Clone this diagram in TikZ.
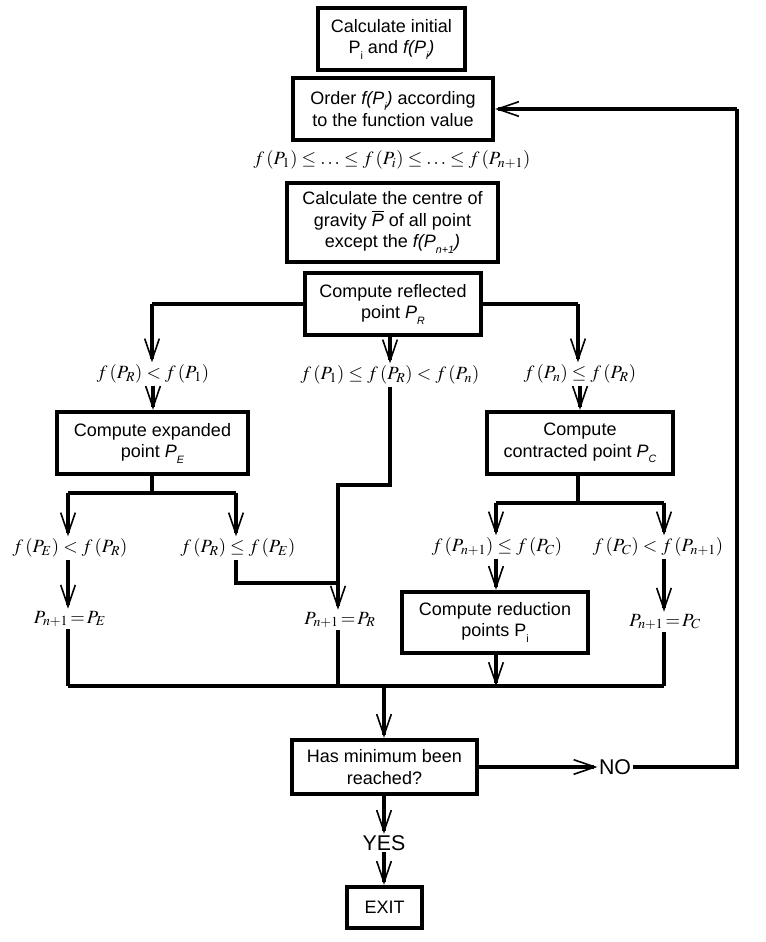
\documentclass[tikz,border=0pt]{standalone}
\usepackage{mathptmx}
\usepackage[no-math]{fontspec}
\setmainfont{Liberation Sans}
\usetikzlibrary{arrows.meta}
\newcommand\sbx[1]{\raisebox{-0.6ex}{\fontsize{8}{8}\selectfont #1}}
\begin{document}
\begin{tikzpicture}[x=0.75pt,y=-0.75pt,
  box/.style={draw,line width=3.2pt,align=center,inner sep=0pt,
    font=\fontsize{13.5}{16}\selectfont},
  lbl/.style={inner sep=1.5pt,font=\fontsize{14}{16}\selectfont},
  big/.style={inner sep=1pt,font=\fontsize{16}{18}\selectfont},
  ln/.style={line width=2.8pt},
  arr/.style={line width=2.8pt,-{Straight Barb[length=16pt,width=11pt,line width=1.2pt]}}]
\useasboundingbox (0,0) rectangle (766,942);
% boxes
\node[box,minimum width=147*0.75pt,minimum height=62*0.75pt] (b1) at (391.5,39) {Calculate initial\\P\sbx{i} and \textit{f(P\sbx{\textit{i}})}};
\node[box,minimum width=200*0.75pt,minimum height=62*0.75pt] (b2) at (393,109) {Order \textit{f(P\sbx{\textit{i}})} according\\to the function value};
\node[lbl] (f0) at (392,160) {$f\,(P_1)\le\ldots\le f\,(P_i)\le\ldots\le f\,(P_{n+1})$};
\node[box,minimum width=211*0.75pt,minimum height=79*0.75pt] (b3) at (392.5,222.5) {Calculate the centre of\\gravity $\overline{\mbox{\textit{P}}}$ of all point\\except the \textit{f(P\sbx{\textit{n+1}})}};
\node[box,minimum width=176*0.75pt,minimum height=62*0.75pt] (b4) at (393,304) {Compute reflected\\point \textit{P}\sbx{\textit{R}}};
\node[box,minimum width=191*0.75pt,minimum height=62*0.75pt] (b5) at (152.5,443) {Compute expanded\\point \textit{P}\sbx{\textit{E}}};
\node[box,minimum width=186*0.75pt,minimum height=62*0.75pt] (b6) at (580,443) {Compute\\contracted point \textit{P}\sbx{\textit{C}}};
\node[box,minimum width=186*0.75pt,minimum height=61*0.75pt] (b7) at (495,622.5) {Compute reduction\\points P\sbx{i}};
\node[box,minimum width=185*0.75pt,minimum height=54*0.75pt] (b8) at (384.5,767) {Has minimum been\\reached?};
\node[box,minimum width=75*0.75pt,minimum height=41*0.75pt] (b9) at (384.5,907.5) {EXIT};
\node[big] (yes) at (384,843) {YES};
\node[big] (no) at (615,767) {NO};
% labels
\node[lbl] (l1) at (153,374) {$f\,(P_R)<f\,(P_1)$};
\node[lbl] (l2) at (390,375) {$f\,(P_1)\le f\,(P_R)<f\,(P_n)$};
\node[lbl] (l3) at (580,374) {$f\,(P_n)\le f\,(P_R)$};
\node[lbl] (l4) at (70,548) {$f\,(P_E)<f\,(P_R)$};
\node[lbl] (l5) at (238,548) {$f\,(P_R)\le f\,(P_E)$};
\node[lbl] (l6) at (70,619) {$P_{n+1}\!=\!P_E$};
\node[lbl] (l7) at (340,620) {$P_{n+1}\!=\!P_R$};
\node[lbl] (l8) at (497,547) {$f\,(P_{n+1})\le f\,(P_C)$};
\node[lbl] (l9) at (658,547) {$f\,(P_C)<f\,(P_{n+1})$};
\node[lbl] (l10) at (665,622) {$P_{n+1}\!=\!P_C$};
% junction coordinates
\coordinate (rl) at (152,304);
\coordinate (rr) at (578,304);
\coordinate (m1) at (390,485);
\coordinate (m2) at (338,485);
\coordinate (m3) at (338,583);
\coordinate (e0) at (152,493);
\coordinate (el) at (68,493);
\coordinate (er) at (236,493);
\coordinate (e5) at (236,583);
\coordinate (c0) at (578,503);
\coordinate (cl) at (496,503);
\coordinate (cr) at (664,503);
\coordinate (bl) at (68,686);
\coordinate (bm) at (338,686);
\coordinate (bc) at (496,686);
\coordinate (br) at (664,686);
\coordinate (bx) at (384,686);
\coordinate (lp1) at (737,767);
\coordinate (lp2) at (737,109);
% connectors
\draw[ln] (b4.west) -- (rl);
\draw[arr] (rl) -- (rl |- l1.north);
\draw[ln] (b4.east) -- (rr);
\draw[arr] (rr) -- (rr |- l3.north);
\draw[arr] (b4.south -| l2.north) -- (l2.north);
\draw[arr] (l1.south) -- (b5.north -| l1.south);
\draw[arr] (l3.south -| b6.north) -- (b6.north);
\draw[ln] (l2.south) -- (m1) -- (m2) -- (m3);
\draw[arr] (m3) -- (m3 |- l7.north);
\draw[ln] (b5.south -| e0) -- (e0);
\draw[ln] (el) -- (er);
\draw[arr] (el) -- (el |- l4.north);
\draw[arr] (er) -- (er |- l5.north);
\draw[arr] (l4.south -| el) -- (el |- l6.north);
\draw[ln] (l5.south -| e5) -- (e5) -- (m3);
\draw[ln] (b6.south -| c0) -- (c0);
\draw[ln] (cl) -- (cr);
\draw[arr] (cl) -- (cl |- l8.north);
\draw[arr] (cr) -- (cr |- l9.north);
\draw[arr] (l8.south -| cl) -- (cl |- b7.north);
\draw[arr] (l9.south -| cr) -- (cr |- l10.north);
\draw[ln] (l6.south -| bl) -- (bl);
\draw[ln] (l7.south -| bm) -- (bm);
\draw[arr] (b7.south -| bc) -- (bc);
\draw[ln] (l10.south -| br) -- (br);
\draw[ln] (bl) -- (br);
\draw[arr] (bx) -- (b8.north -| bx);
\draw[arr] (b8.east) -- (no.west);
\draw[ln] (no.east) -- (lp1) -- (lp2);
\draw[arr] (lp2) -- (b2.east);
\draw[arr] (b8.south -| bx) -- (yes.north -| bx);
\draw[arr] (yes.south -| bx) -- (b9.north -| bx);
\end{tikzpicture}
\end{document}
